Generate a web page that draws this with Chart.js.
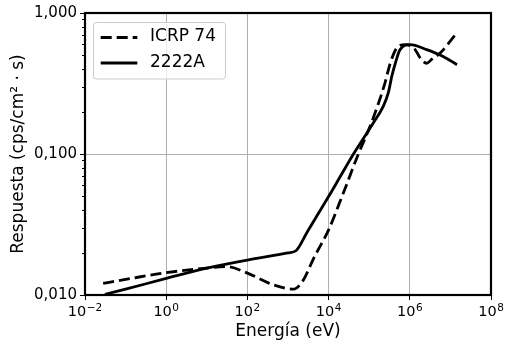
<!DOCTYPE html>
<html><head><meta charset="utf-8">
<script src="https://cdn.jsdelivr.net/npm/chart.js@4"></script>
<style>html,body{margin:0;padding:0;background:#fff}#wrap{width:510px;height:346px}</style>
</head><body><div id="wrap"><canvas id="c" width="510" height="346"></canvas></div>
<script>
const seriesNames = ['ICRP 74', '2222A'];
const energyICRP = [0.028, 0.1, 1, 10, 31, 100, 436, 1350, 2400, 4200, 10000, 22000, 54000, 105000, 170000, 245000, 330000, 480000, 780000, 1350000, 1800000, 2600000, 3500000, 5600000, 13200000];
const respICRP   = [0.0121, 0.0129, 0.0144, 0.0155, 0.0159, 0.0143, 0.0118, 0.0110, 0.0128, 0.0180, 0.029, 0.051, 0.100, 0.157, 0.230, 0.320, 0.440, 0.565, 0.597, 0.550, 0.480, 0.440, 0.470, 0.520, 0.700];
const energy2222A = [0.031, 0.1, 1, 10, 100, 1000, 1600, 3000, 5000, 10000, 20000, 41000, 126000, 220000, 295000, 360000, 440000, 575000, 1020000, 2600000, 6800000, 14500000];
const resp2222A   = [0.0101, 0.0110, 0.0131, 0.0155, 0.0177, 0.0199, 0.0207, 0.0281, 0.0359, 0.0499, 0.0703, 0.100, 0.166, 0.217, 0.271, 0.355, 0.440, 0.550, 0.597, 0.550, 0.490, 0.430];
const xTicks = [1e-2, 1e0, 1e2, 1e4, 1e6, 1e8];
const xTickBase = '10';
const xTickExponents = ['−2', '0', '2', '4', '6', '8'];
const yTicks = [0.01, 0.1, 1];
const yTickLabels = ['0,010', '0,100', '1,000'];
const yMinorTicks = [0.02,0.03,0.04,0.05,0.06,0.07,0.08,0.09,0.2,0.3,0.4,0.5,0.6,0.7,0.8,0.9];
const xTitle = 'Energía (eV)';
const yTitle = 'Respuesta (cps/cm² · s)';

const FONT = 'DejaVu Sans';
const toPts = (xs, ys) => xs.map((x, i) => ({x: x, y: ys[i]}));

const framePlugin = {
  id: 'frameLegend',
  afterDraw(chart) {
    const ctx = chart.ctx, a = chart.chartArea, ys = chart.scales.y, xs = chart.scales.x;
    ctx.save();
    // minor ticks on y
    ctx.strokeStyle = '#000'; ctx.lineWidth = 1;
    yMinorTicks.forEach(v => {
      const p = Math.round(ys.getPixelForValue(v)) + 0.5;
      ctx.beginPath(); ctx.moveTo(a.left - 3, p); ctx.lineTo(a.left, p); ctx.stroke();
    });
    // x tick labels with superscript exponents
    ctx.fillStyle = '#000'; ctx.textBaseline = 'alphabetic'; ctx.textAlign = 'left';
    const baseFont = '14.5px "' + FONT + '"', expFont = '10.5px "' + FONT + '"';
    xs.ticks.forEach(t => {
      const i = xTicks.indexOf(t.value);
      if (i < 0) return;
      const px = xs.getPixelForValue(t.value);
      ctx.font = baseFont; const wb = ctx.measureText(xTickBase).width;
      ctx.font = expFont; const we = ctx.measureText(xTickExponents[i]).width;
      const x0 = px - (wb + we + 0.5) / 2;
      ctx.font = baseFont; ctx.fillText(xTickBase, x0, 315.5);
      ctx.font = expFont; ctx.fillText(xTickExponents[i], x0 + wb + 0.5, 310.5);
    });
    // frame
    ctx.lineWidth = 2.2;
    ctx.strokeRect(a.left, a.top, a.right - a.left, a.bottom - a.top);
    // legend
    const bx = 93.5, by = 22.5, bw = 132, bh = 56.5, r = 3;
    ctx.beginPath();
    ctx.moveTo(bx + r, by); ctx.lineTo(bx + bw - r, by); ctx.arcTo(bx + bw, by, bx + bw, by + r, r);
    ctx.lineTo(bx + bw, by + bh - r); ctx.arcTo(bx + bw, by + bh, bx + bw - r, by + bh, r);
    ctx.lineTo(bx + r, by + bh); ctx.arcTo(bx, by + bh, bx, by + bh - r, r);
    ctx.lineTo(bx, by + r); ctx.arcTo(bx, by, bx + r, by, r); ctx.closePath();
    ctx.fillStyle = 'rgba(255,255,255,0.75)'; ctx.fill();
    ctx.strokeStyle = '#cccccc'; ctx.lineWidth = 1; ctx.stroke();
    const rows = [{y: 37.5, dash: [11, 5]}, {y: 63, dash: []}];
    ctx.strokeStyle = '#000'; ctx.lineWidth = 2.8; ctx.lineCap = 'butt';
    ctx.fillStyle = '#000'; ctx.font = '17px "' + FONT + '"'; ctx.textBaseline = 'middle'; ctx.textAlign = 'left';
    rows.forEach((row, i) => {
      ctx.setLineDash(row.dash);
      ctx.beginPath(); ctx.moveTo(100.7, row.y); ctx.lineTo(137.3, row.y); ctx.stroke();
      ctx.setLineDash([]);
      ctx.fillText(seriesNames[i], 150, row.y - 0.5);
    });
    ctx.restore();
  }
};

new Chart(document.getElementById('c'), {
  type: 'line',
  data: {
    datasets: [
      {label: seriesNames[0], data: toPts(energyICRP, respICRP), borderColor: '#000', borderWidth: 2.8,
       borderDash: [11, 5], pointRadius: 0, fill: false, cubicInterpolationMode: 'monotone'},
      {label: seriesNames[1], data: toPts(energy2222A, resp2222A), borderColor: '#000', borderWidth: 2.8,
       pointRadius: 0, fill: false, cubicInterpolationMode: 'monotone'}
    ]
  },
  options: {
    responsive: false, animation: false, devicePixelRatio: 1,
    layout: {padding: {left: 0, right: 19, top: 13, bottom: 0}},
    plugins: {legend: {display: false}, tooltip: {enabled: false}},
    scales: {
      x: {
        type: 'logarithmic', min: 1e-2, max: 1e8,
        afterBuildTicks: s => { s.ticks = xTicks.map(v => ({value: v})); },
        afterFit: s => { s.height = 51; },
        ticks: {display: false, autoSkip: false, maxRotation: 0,
          callback: v => xTickBase + xTickExponents[xTicks.indexOf(v)]},
        grid: {color: '#b0b0b0', lineWidth: 1, drawTicks: true, tickLength: 5, tickColor: '#000', tickWidth: 1},
        border: {display: false},
        title: {display: true, text: xTitle, color: '#000', font: {family: FONT, size: 17}, padding: {top: 0, bottom: 4}}
      },
      y: {
        type: 'logarithmic', min: 0.01, max: 1,
        afterBuildTicks: s => { s.ticks = yTicks.map(v => ({value: v})); },
        afterFit: s => { s.width = 85; },
        ticks: {autoSkip: false, padding: 3, color: '#000', font: {family: FONT, size: 15},
          callback: v => yTickLabels[yTicks.indexOf(v)]},
        grid: {color: '#b0b0b0', lineWidth: 1, drawTicks: true, tickLength: 5, tickColor: '#000', tickWidth: 1},
        border: {display: false},
        title: {display: true, text: yTitle, color: '#000', font: {family: FONT, size: 17}, padding: {top: 8, bottom: 0}}
      }
    }
  },
  plugins: [framePlugin]
});
</script></body></html>
